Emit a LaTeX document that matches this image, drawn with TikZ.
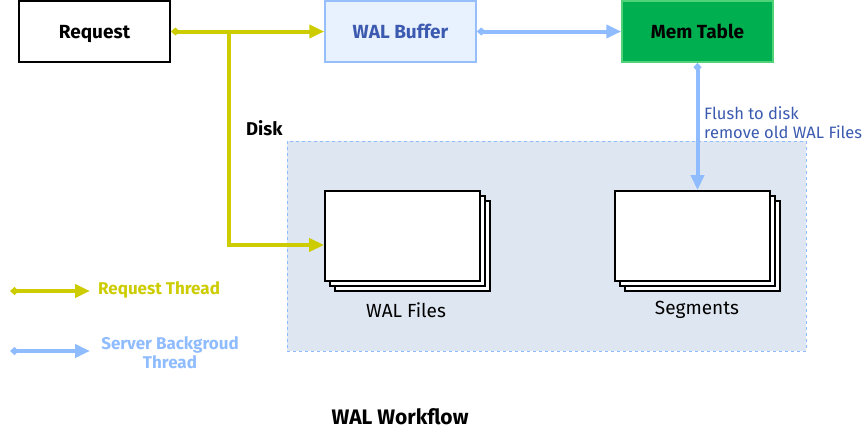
\documentclass[tikz,border=0pt]{standalone}
\usepackage{fontspec}
\setmainfont{Fira Sans}
\usetikzlibrary{arrows.meta,shadows}
\definecolor{ylw}{RGB}{204,204,0}
\definecolor{lblue}{RGB}{143,188,255}
\definecolor{dblue}{RGB}{59,90,176}
\definecolor{bufbg}{RGB}{232,241,254}
\definecolor{bufbd}{RGB}{150,190,250}
\definecolor{memfill}{RGB}{0,176,80}
\definecolor{membd}{RGB}{80,210,120}
\definecolor{diskbg}{RGB}{222,230,241}
\tikzset{
  box/.style={minimum width=151pt,minimum height=61pt,inner sep=0pt,text height=15pt,text depth=2pt,font=\fontsize{19}{22}\selectfont\bfseries},
  ylwarrow/.style={draw=ylw,line width=4pt,{Diamond[length=9pt,width=8pt]}-{Triangle[length=15pt,width=13pt]}},
  bluarrow/.style={draw=lblue,line width=4pt,{Diamond[length=9pt,width=8pt]}-{Triangle[length=15pt,width=13pt]}},
  stack/.style={draw=black,line width=1.8pt,fill=white,minimum width=155pt,minimum height=90pt,inner sep=0pt,
    double copy shadow={shadow xshift=5pt,shadow yshift=-5pt}},
  lbl/.style={font=\fontsize{19}{22}\selectfont}
}
\begin{document}
\begin{tikzpicture}[x=1pt,y=-1pt]
\useasboundingbox (0,0) rectangle (862,442);
% disk area
\node[draw=lblue,dashed,fill=diskbg,line width=0.8pt,minimum width=519pt,minimum height=210pt,inner sep=0pt] (disk) at (546.5,246) {};
\node[anchor=base west,inner sep=0pt,font=\fontsize{18.5}{21}\selectfont\bfseries] (disklbl) at (246,135) {Disk};
% top boxes
\node[box,draw=black,line width=1.8pt,fill=white] (req) at (94.5,31.5) {Request};
\node[box,draw=bufbd,line width=1.5pt,fill=bufbg,text=dblue] (buf) at (400.5,31.5) {WAL Buffer};
\node[box,draw=membd,line width=1.5pt,fill=memfill,text=black] (mem) at (697.5,31.5) {Mem Table};
% stacks
\node[stack] (walf) at (402.5,236) {};
\node[stack] (seg) at (692.5,236) {};
\node[lbl] (walflbl) at (406,310) {WAL Files};
\node[lbl] (seglbl) at (697,310) {Segments};
% connectors
\coordinate (br) at (229,31.5);
\coordinate (walin) at ([yshift=-9pt]walf.west);
\draw[ylwarrow] (req.east) -- (buf.west);
\draw[draw=ylw,line width=4pt,-{Triangle[length=15pt,width=13pt]}] (br) |- (walin);
\draw[bluarrow] (buf.east) -- (mem.west);
\draw[bluarrow] (mem.south) -- (mem.south |- seg.north);
\node[anchor=base west,inner sep=0pt,align=left,text=dblue,font=\fontsize{16.5}{19}\selectfont] (flush) at (704,138) {Flush to disk\\remove old WAL Files};
% legend
\coordinate (l1a) at (10,291);
\coordinate (l1b) at (90,291);
\draw[ylwarrow] (l1a) -- (l1b);
\node[anchor=west,inner sep=0pt,text=ylw,font=\fontsize{17}{19}\selectfont\bfseries] (leg1) at (98,290) {Request Thread};
\coordinate (l2a) at (10,351);
\coordinate (l2b) at (90,351);
\draw[bluarrow] (l2a) -- (l2b);
\node[align=center,text=lblue,font=\fontsize{17}{19}\selectfont\bfseries] (leg2) at (170,353) {Server Backgroud\\Thread};
% title
\node[font=\fontsize{21}{24}\selectfont\bfseries] (title) at (400,417) {WAL Workflow};
\end{tikzpicture}
\end{document}
